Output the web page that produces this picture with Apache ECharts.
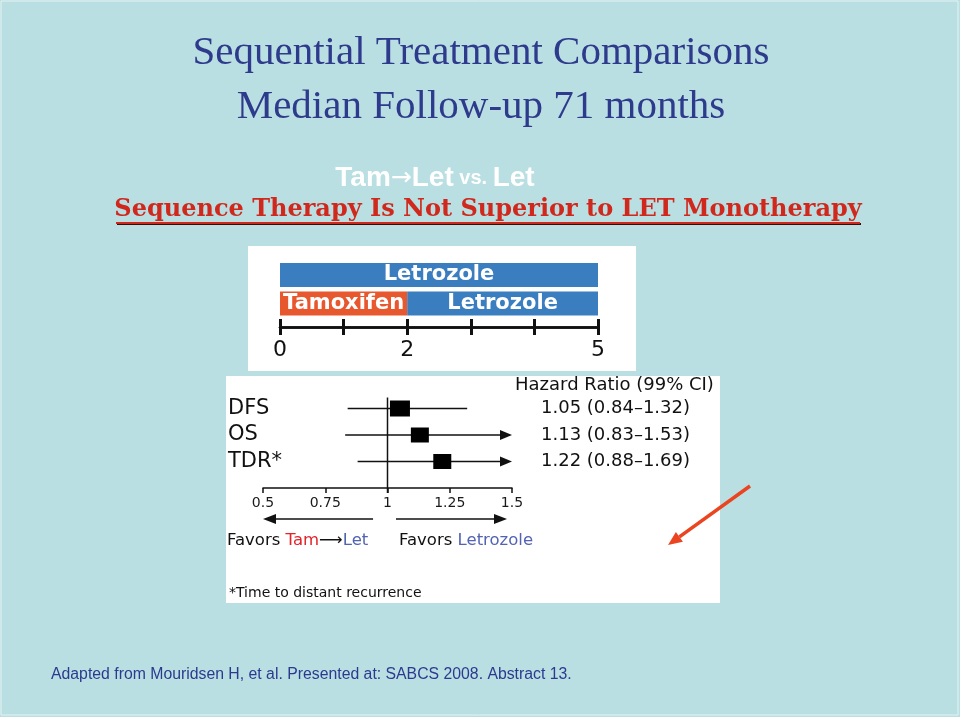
<!DOCTYPE html>
<html>
<head>
<meta charset="utf-8">
<script src="https://cdn.jsdelivr.net/npm/echarts@6/dist/echarts.min.js"></script>
<style>
html,body{margin:0;padding:0;background:#badfe2;}
#chart{width:960px;height:717px;}
</style>
</head>
<body>
<div id="chart"></div>
<script>
// ---- Timeline panel data ----
const timelineRows = ['Letrozole', 'Tamoxifen → Letrozole'];
const tamoxifenYears = [0, 2];
const letrozoleYears = [5, 3];
const timelineTickLabels = [0, 2, 5];

// ---- Forest plot data ----
const endpoints = ['DFS', 'OS', 'TDR*'];
const hazardRatio = [1.05, 1.13, 1.22];
const ciLower = [0.84, 0.83, 0.88];
const ciUpper = [1.32, 1.53, 1.69];
const hrHeader = 'Hazard Ratio (99% CI)';
const hrText = ['1.05 (0.84–1.32)', '1.13 (0.83–1.53)', '1.22 (0.88–1.69)'];
const squareSize = [[20, 16], [18, 15], [18, 15]];
const forestMin = 0.5, forestMax = 1.5, forestStep = 0.25;
const refValue = 1;

const chart = echarts.init(document.getElementById('chart'), null, {renderer: 'canvas'});

const leftCats = [' ', ...endpoints, '  '];
const rightCats = [hrHeader, ...hrText, '   '];
const rows = endpoints.map((_, i) => i + 1);

const option = {
  backgroundColor: '#badfe2',
  animation: false,
  grid: [
    {left: 280, top: 260.75, width: 318, height: 57, containLabel: false},
    {left: 263, top: 382, width: 249, height: 106, containLabel: false}
  ],
  xAxis: [
    {
      gridIndex: 0, type: 'value', min: 0, max: 5, interval: 1, position: 'bottom', offset: 9.25,
      axisLine: {show: true, lineStyle: {color: '#111', width: 2.5}},
      axisTick: {show: true, length: 8, lineStyle: {color: '#111', width: 3}},
      axisLabel: {show: true, margin: 12, color: '#111', fontSize: 22, fontFamily: 'DejaVu Sans',
        showMinLabel: true, showMaxLabel: true,
        formatter: v => timelineTickLabels.indexOf(v) >= 0 ? String(v) : ''},
      splitLine: {show: false}
    },
    {
      gridIndex: 0, type: 'value', min: 0, max: 5, interval: 1, position: 'bottom', offset: 9.25,
      axisLine: {show: true, lineStyle: {color: '#111', width: 2.5}},
      axisTick: {show: true, inside: true, length: 8, lineStyle: {color: '#111', width: 3}},
      axisLabel: {show: false},
      splitLine: {show: false}
    },
    {
      gridIndex: 1, type: 'value', min: forestMin, max: forestMax, interval: forestStep,
      axisLine: {show: true, lineStyle: {color: '#111', width: 1.5}},
      axisTick: {show: true, length: 5, lineStyle: {color: '#111', width: 1.5}},
      axisLabel: {margin: 8, color: '#1a1a1a', fontSize: 14, fontFamily: 'DejaVu Sans',
        showMinLabel: true, showMaxLabel: true},
      splitLine: {show: false}
    }
  ],
  yAxis: [
    {
      gridIndex: 0, type: 'category', data: timelineRows, inverse: true,
      axisLine: {show: false}, axisTick: {show: false}, axisLabel: {show: false}
    },
    {
      gridIndex: 1, type: 'category', data: leftCats, inverse: true, boundaryGap: false,
      axisLine: {show: false}, axisTick: {show: false}, splitLine: {show: false},
      axisLabel: {show: true, align: 'left', margin: 35, color: '#111', fontSize: 21,
        fontFamily: 'DejaVu Sans', interval: 0}
    },
    {
      gridIndex: 1, type: 'category', data: rightCats, inverse: true, boundaryGap: false, position: 'right',
      axisLine: {show: false}, axisTick: {show: false}, splitLine: {show: false},
      axisLabel: {show: true, align: 'left', margin: 3, interval: 0,
        formatter: (v, i) => i === 0 ? '{h|' + v + '}' : '{v|' + v + '}',
        rich: {
          h: {color: '#111', fontSize: 18, fontFamily: 'DejaVu Sans', padding: [6, 0, 0, 0]},
          v: {color: '#111', fontSize: 18, fontFamily: 'DejaVu Sans', padding: [0, 0, 0, 26]}
        }}
    }
  ],
  series: [
    {
      name: 'Tamoxifen', type: 'bar', stack: 'seq', xAxisIndex: 0, yAxisIndex: 0,
      data: tamoxifenYears, barWidth: 24,
      itemStyle: {color: '#e8582e'},
      label: {show: true, position: 'inside', formatter: p => p.value > 0 ? p.seriesName : '',
        color: '#fff', fontSize: 21, fontWeight: 'bold', fontFamily: 'DejaVu Sans'}
    },
    {
      name: 'Letrozole', type: 'bar', stack: 'seq', xAxisIndex: 0, yAxisIndex: 0,
      data: letrozoleYears, barWidth: 24,
      itemStyle: {color: '#3b7ec0'},
      label: {show: true, position: 'inside', formatter: p => p.seriesName,
        color: '#fff', fontSize: 21, fontWeight: 'bold', fontFamily: 'DejaVu Sans'}
    },
    {
      name: 'ref', type: 'custom', xAxisIndex: 2, yAxisIndex: 1, clip: false,
      data: [[refValue, 1]],
      renderItem: (params, api) => {
        const top = api.coord([api.value(0), 1]);
        const bot = api.coord([api.value(0), leftCats.length - 1]);
        return {type: 'line', shape: {x1: top[0], y1: top[1] - 11, x2: bot[0], y2: bot[1] + 5},
          style: {stroke: '#111', lineWidth: 1.5}};
      }
    },
    {
      name: 'CI', type: 'custom', xAxisIndex: 2, yAxisIndex: 1, clip: false,
      data: endpoints.map((_, i) => [ciLower[i], ciUpper[i], rows[i]]),
      renderItem: (params, api) => {
        const lo = api.value(0), hi = api.value(1), r = api.value(2);
        const p1 = api.coord([lo, r]);
        const p2 = api.coord([Math.min(hi, forestMax), r]);
        const children = [];
        if (hi > forestMax) {
          const L = 12, H = 5;
          children.push({type: 'line', shape: {x1: p1[0], y1: p1[1], x2: p2[0] - L, y2: p2[1]},
            style: {stroke: '#111', lineWidth: 1.5}});
          children.push({type: 'polygon', shape: {points: [[p2[0], p2[1]], [p2[0] - L, p2[1] - H], [p2[0] - L, p2[1] + H]]},
            style: {fill: '#111'}});
        } else {
          children.push({type: 'line', shape: {x1: p1[0], y1: p1[1], x2: p2[0], y2: p2[1]},
            style: {stroke: '#111', lineWidth: 1.5}});
        }
        return {type: 'group', children};
      }
    },
    {
      name: 'HR', type: 'scatter', xAxisIndex: 2, yAxisIndex: 1, symbol: 'rect', z: 5,
      data: endpoints.map((_, i) => ({value: [hazardRatio[i], rows[i]], symbolSize: squareSize[i]})),
      itemStyle: {color: '#000', opacity: 1}
    },
    {
      name: 'favors', type: 'custom', xAxisIndex: 2, yAxisIndex: 1, clip: false,
      data: [[0.942, 0.5], [1.034, 1.48]],
      renderItem: (params, api) => {
        const base = leftCats.length - 1;
        const a = api.coord([api.value(0), base]);
        const b = api.coord([api.value(1), base]);
        const y = a[1] + 31;
        const dir = b[0] > a[0] ? 1 : -1;
        const L = 13, H = 5;
        return {type: 'group', children: [
          {type: 'line', shape: {x1: a[0], y1: y, x2: b[0] - dir * L, y2: y}, style: {stroke: '#111', lineWidth: 1.5}},
          {type: 'polygon', shape: {points: [[b[0], y], [b[0] - dir * L, y - H], [b[0] - dir * L, y + H]]}, style: {fill: '#111'}}
        ]};
      }
    }
  ],
  graphic: [
    {type: 'rect', z: -10, shape: {x: 1, y: 1, width: 957, height: 714}, style: {fill: 'none', stroke: '#e4f2f3', lineWidth: 1}},
    {type: 'rect', z: -5, shape: {x: 248, y: 246, width: 388, height: 125}, style: {fill: '#ffffff'}},
    {type: 'rect', z: -5, shape: {x: 226, y: 376, width: 494, height: 227}, style: {fill: '#ffffff'}},
    {type: 'text', style: {x: 481, y: 53, text: 'Sequential Treatment Comparisons', align: 'center', verticalAlign: 'middle',
      fill: '#2e3a8c', font: '41px "Liberation Serif"'}},
    {type: 'text', style: {x: 481, y: 107, text: 'Median Follow-up 71 months', align: 'center', verticalAlign: 'middle',
      fill: '#2e3a8c', font: '41px "Liberation Serif"'}},
    {type: 'text', style: {x: 435, y: 178, align: 'center', verticalAlign: 'middle',
      text: '{a|Tam}{b|→}{a|Let}{c| vs. }{a|Let}',
      rich: {
        a: {fill: '#ffffff', fontSize: 28, fontWeight: 'bold', fontFamily: 'Liberation Sans'},
        b: {fill: '#ffffff', fontSize: 25, fontFamily: 'DejaVu Sans'},
        c: {fill: '#ffffff', fontSize: 20, fontWeight: 'bold', fontFamily: 'Liberation Sans'}
      }}},
    {type: 'text', style: {x: 488, y: 210, text: 'Sequence Therapy Is Not Superior to LET Monotherapy', align: 'center', verticalAlign: 'middle',
      fill: '#d0281c', font: 'bold 24px "DejaVu Serif"', textShadowColor: '#3a0a06', textShadowOffsetX: 1.5, textShadowOffsetY: 1.5, textShadowBlur: 0}},
    {type: 'line', shape: {x1: 116, y1: 223, x2: 860, y2: 223}, style: {stroke: '#d0281c', lineWidth: 2, shadowColor: '#3a0a06', shadowOffsetX: 1, shadowOffsetY: 1}},
    {type: 'text', style: {x: 227, y: 541, verticalAlign: 'middle',
      text: '{k|Favors }{r|Tam}{k|⟶}{b|Let}',
      rich: {
        k: {fill: '#111', fontSize: 16.5, fontFamily: 'DejaVu Sans'},
        r: {fill: '#e3232a', fontSize: 16.5, fontFamily: 'DejaVu Sans'},
        b: {fill: '#5263b3', fontSize: 16.5, fontFamily: 'DejaVu Sans'}
      }}},
    {type: 'text', style: {x: 399, y: 541, verticalAlign: 'middle',
      text: '{k|Favors }{b|Letrozole}',
      rich: {
        k: {fill: '#111', fontSize: 16.5, fontFamily: 'DejaVu Sans'},
        b: {fill: '#5263b3', fontSize: 16.5, fontFamily: 'DejaVu Sans'}
      }}},
    {type: 'text', style: {x: 229, y: 593, verticalAlign: 'middle', text: '*Time to distant recurrence',
      fill: '#111', font: '14px "DejaVu Sans"'}},
    {type: 'line', shape: {x1: 750, y1: 486, x2: 679.4, y2: 536.8}, style: {stroke: '#ea4420', lineWidth: 3.5}},
    {type: 'polygon', shape: {points: [[668, 545], [682.9, 541.7], [675.9, 531.9]]}, style: {fill: '#ea4420'}},
    {type: 'text', style: {x: 51, y: 675, verticalAlign: 'middle',
      text: 'Adapted from Mouridsen H, et al. Presented at: SABCS 2008. Abstract 13.',
      fill: '#2b3a8f', font: '15.8px "Liberation Sans"'}}
  ]
};
chart.setOption(option);
</script>
</body>
</html>
